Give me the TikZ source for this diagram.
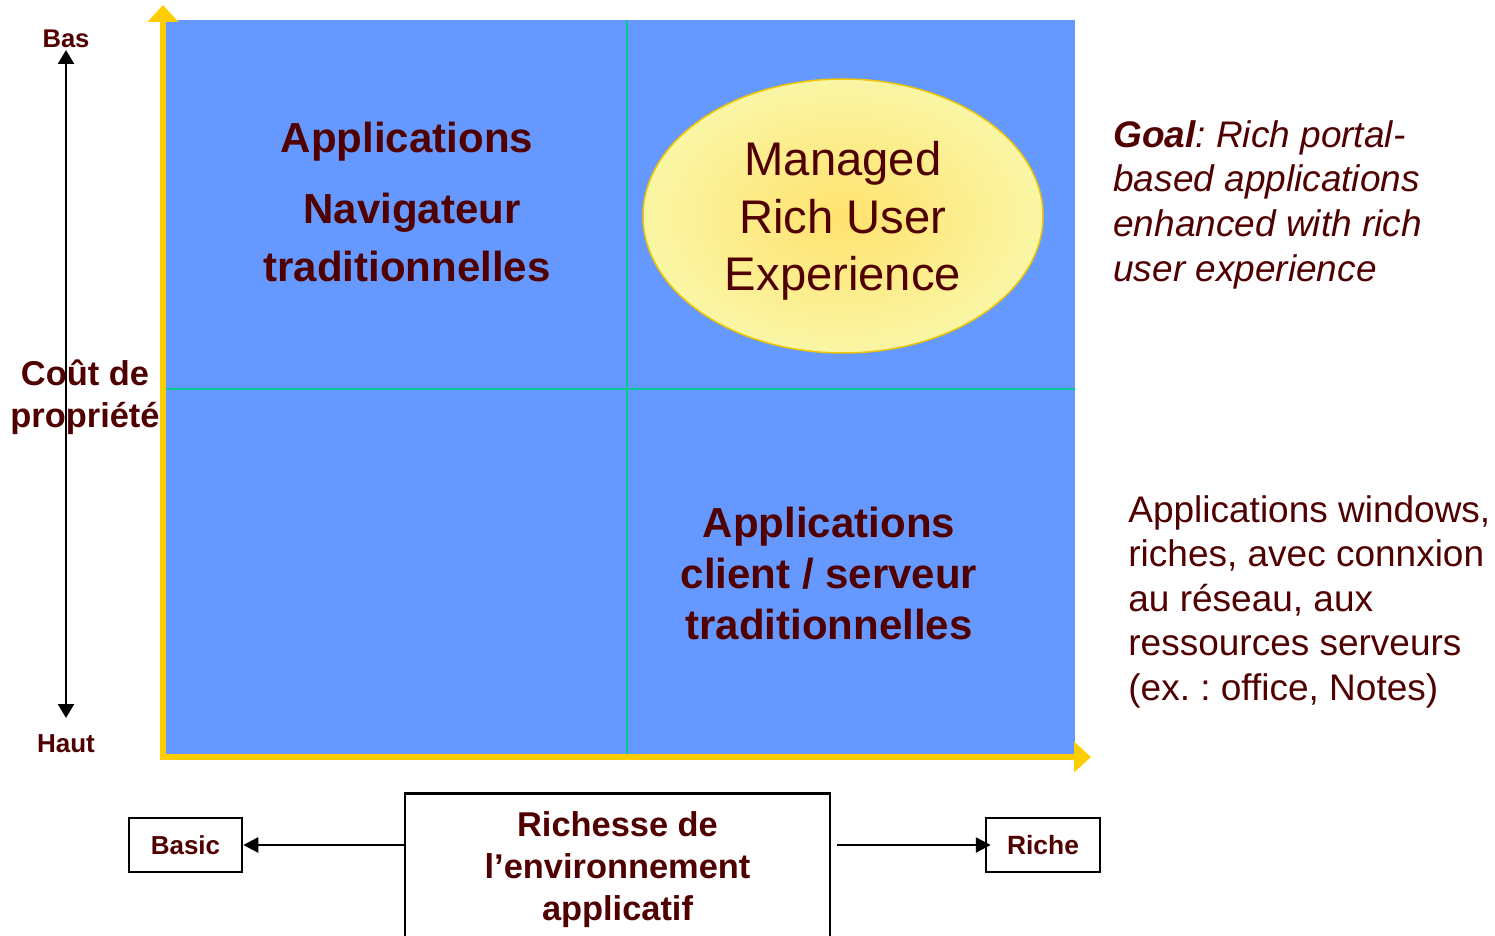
\documentclass[tikz,border=0pt]{standalone}
\usepackage{fontspec}
\setmainfont{Liberation Sans}
\usetikzlibrary{arrows.meta,shapes.geometric}
\definecolor{txt}{RGB}{80,0,0}
\definecolor{quad}{RGB}{102,153,255}
\definecolor{axisy}{RGB}{255,204,0}
\definecolor{gridc}{RGB}{0,200,150}
\definecolor{ellin}{RGB}{255,226,110}
\definecolor{ellout}{RGB}{250,246,165}
\definecolor{ellborder}{RGB}{240,196,0}
\frenchspacing
\begin{document}
\begin{tikzpicture}[x=0.5pt,y=-0.5pt,
  lbl/.style={text=txt, inner sep=0pt, align=center},
  boxed/.style={draw=black, line width=1.25pt, inner sep=0pt, text=txt, align=center},
  conn/.style={line width=1.25pt, -{Triangle[length=7.5pt,width=7.5pt]}},
  fquad/.style={font=\fontsize{21}{25.5}\selectfont\bfseries}]
\path[use as bounding box] (0,0) rectangle (1495,936);

% quadrant background
\fill[quad] (166,20) rectangle (1075,754);
\draw[gridc, line width=1pt] (627,20) -- (627,757);
\draw[gridc, line width=1pt] (163,389) -- (1075,389);

% yellow axes
\coordinate (ytip) at (163,5);
\coordinate (corner) at (163,757);
\coordinate (xtip) at (1091,757);
\draw[axisy, line width=3pt, line join=miter,
  {Triangle[length=8.5pt,width=15pt]}-{Triangle[length=8.5pt,width=15pt]}]
  (ytip) -- (corner) -- (xtip);

% left axis
\coordinate (ctop) at (66,50);
\coordinate (cbot) at (66,718);
\draw[line width=1.25pt, {Triangle[length=7pt,width=8pt]}-{Triangle[length=7pt,width=8pt]}] (ctop) -- (cbot);
\node[lbl, font=\fontsize{12.8}{15}\selectfont\bfseries] (bas) at (66,39) {Bas};
\node[lbl, font=\fontsize{13}{15}\selectfont\bfseries] (haut) at (66,744) {Haut};
\node[lbl, font=\fontsize{17.2}{21}\selectfont\bfseries] (cout) at (85,397) {Coût de\\propriété};

% quadrant texts
\node[lbl, fquad] (tl1) at (407,142) {Applications};
\node[lbl, fquad] (tl2) at (412,213) {Navigateur};
\node[lbl, fquad] (tl3) at (407,266) {traditionnelles};
\node[lbl, fquad] (cs) at (829,573) {Applications\\client / serveur\\traditionnelles};

\node[ellipse, draw=ellborder, line width=0.75pt, inner color=ellin, outer color=ellout,
  minimum width=200pt, minimum height=137pt, inner sep=0pt, text=txt, align=center,
  font=\fontsize{23.6}{28.75}\selectfont] (mrue) at (843,216) {};
\node[lbl, font=\fontsize{23.6}{28.75}\selectfont] (mruetext) at (843,221) {Managed\\Rich User\\Experience};

% right side texts
\node[text=txt, inner sep=0pt, align=left, anchor=north west,
  font=\fontsize{18.5}{22.3}\selectfont\itshape] (goal) at (1113,120)
  {\textbf{Goal}: Rich portal-\\based applications\\enhanced with rich\\user experience};
\node[text=txt, inner sep=0pt, align=left, anchor=north west,
  font=\fontsize{18.5}{22.25}\selectfont] (win) at (1128,495)
  {Applications windows,\\riches, avec connxion\\au réseau, aux\\ressources serveurs\\(ex. : office, Notes)};

% bottom boxes
\node[boxed, minimum width=56.5pt, minimum height=27pt, font=\fontsize{13}{15}\selectfont\bfseries] (basic) at (185.5,845) {Basic};
\node[boxed, minimum width=57pt, minimum height=27pt, font=\fontsize{13.2}{15}\selectfont\bfseries] (riche) at (1043,845) {Riche};
\node[boxed, anchor=north, minimum width=212.5pt, minimum height=76pt, font=\fontsize{17.2}{21}\selectfont\bfseries] (rich) at (617.5,792) {Richesse de\\l’environnement\\applicatif};

\draw[conn] (rich.west |- basic.east) -- (basic.east);
\draw[conn, shorten <=3pt, shorten >=-3pt] (rich.east |- riche.west) -- (riche.west);
\end{tikzpicture}
\end{document}
